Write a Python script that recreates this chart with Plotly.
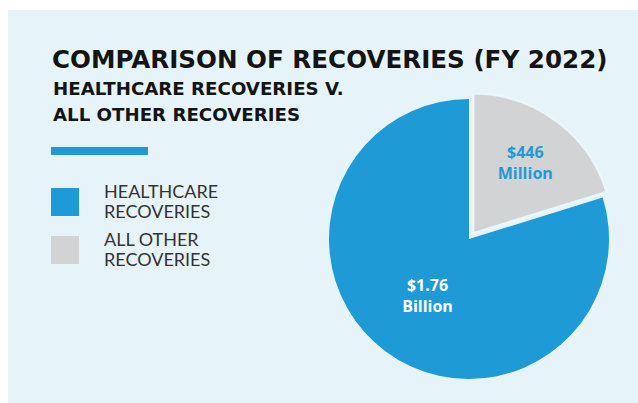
import plotly.graph_objects as go

# FY 2022 recoveries, in millions of dollars
categories = ["HEALTHCARE RECOVERIES", "ALL OTHER RECOVERIES"]
values_musd = [1760, 446]
value_labels = ["$1.76<br>Billion", "$446<br>Million"]

title = "COMPARISON OF RECOVERIES (FY 2022)"
subtitle_lines = ["HEALTHCARE RECOVERIES V.", "ALL OTHER RECOVERIES"]

BLUE = "#1E9AD6"
GRAY = "#D1D3D4"
PANEL = "#E6F4FA"
EDGE = "#EAF6FB"
INK = "#141414"
LEGEND_INK = "#333333"

W, H = 638, 403


def px(x):
    return x / W


def py(y):
    return 1 - y / H


# pie geometry (pixels)
cx, cy, r, pull = 469, 239, 140, 0.05
half = r * (1 + pull)

# start the large slice where the small one ends so the small one sits at 12-3 o'clock
start_deg = 360 * values_musd[1] / sum(values_musd)

fig = go.Figure()
fig.add_trace(go.Pie(
    labels=categories,
    values=values_musd,
    text=value_labels,
    textinfo="text",
    textposition="inside",
    insidetextorientation="horizontal",
    sort=False,
    direction="clockwise",
    rotation=start_deg,
    pull=[0, pull],
    marker=dict(colors=[BLUE, GRAY], line=dict(color=EDGE, width=[0, 2.5])),
    insidetextfont=dict(family="Open Sans", size=16, color=["white", BLUE], weight="bold"),
    domain=dict(x=[px(cx - half), px(cx + half)], y=[py(cy + half), py(cy - half)]),
    showlegend=False,
    hoverinfo="label+value",
))

shapes = [
    # background panel
    dict(type="rect", xref="paper", yref="paper", x0=px(8), x1=1, y0=0, y1=py(10),
         fillcolor=PANEL, line=dict(width=0), layer="below"),
    # accent rule under the heading
    dict(type="rect", xref="paper", yref="paper", x0=px(51), x1=px(148), y0=py(155), y1=py(147),
         fillcolor=BLUE, line=dict(width=0)),
]

annotations = [
    dict(text=f"<b>{title}</b>", x=px(50), y=py(60), xanchor="left", yanchor="middle",
         font=dict(family="DejaVu Sans", size=24.6, color=INK)),
]
for i, line in enumerate(subtitle_lines):
    annotations.append(dict(text=f"<b>{line}</b>", x=px(51), y=py(89 + 25 * i),
                            xanchor="left", yanchor="middle",
                            font=dict(family="DejaVu Sans", size=18.2, color=INK)))

# legend: swatch plus two-line label
swatch_colors = [BLUE, GRAY]
for i, (label, col) in enumerate(zip(categories, swatch_colors)):
    top = 188 + 48 * i
    shapes.append(dict(type="rect", xref="paper", yref="paper", x0=px(51), x1=px(79),
                       y0=py(top + 28), y1=py(top), fillcolor=col, line=dict(width=0)))
    words = label.split(" ")
    lines = [" ".join(words[:-1]), words[-1]]
    for j, ln in enumerate(lines):
        annotations.append(dict(text=ln, x=px(102), y=py(top + 2.5 + 20.5 * j),
                                xanchor="left", yanchor="middle",
                                font=dict(family="Lato", size=18, color=LEGEND_INK)))

for a in annotations:
    a.update(xref="paper", yref="paper", showarrow=False)

fig.update_layout(
    width=W, height=H,
    margin=dict(l=0, r=0, t=0, b=0),
    paper_bgcolor="white",
    plot_bgcolor="white",
    shapes=shapes,
    annotations=annotations,
)

fig.write_html("out.html")
